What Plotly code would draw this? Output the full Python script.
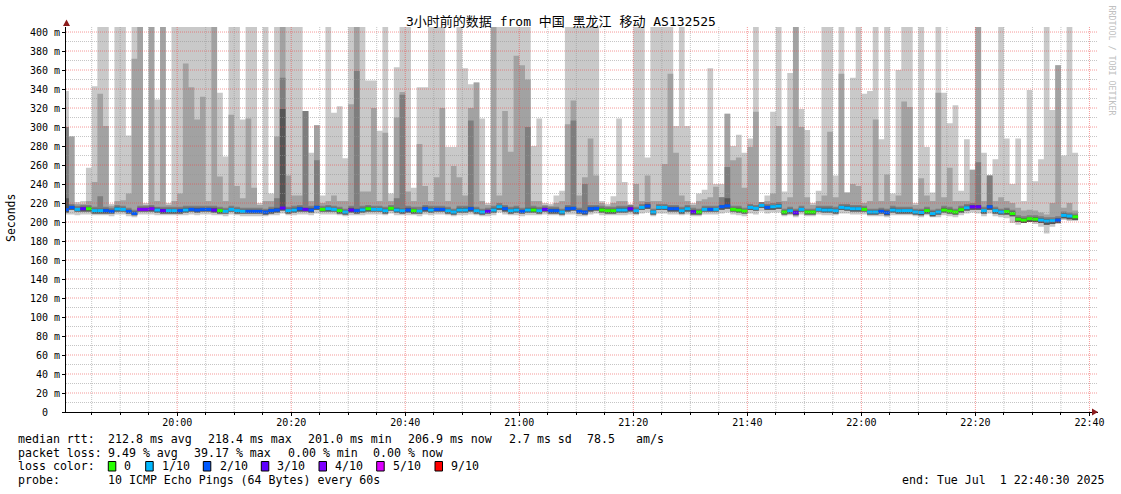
import plotly.graph_objects as go
import pandas as pd

# ---------------- data ----------------
TITLE = "3小时前的数据 from 中国 黑龙江 移动 AS132525"
FIRST_BIN = "2025-07-01 19:40:00"   # start of the first 1-minute bin

# median rtt per minute (ms)
MEDIAN = [
    213.0, 215.4, 213.3, 214.0, 214.0, 212.0, 212.0, 212.0, 211.2, 213.7,
    213.3, 211.2, 209.1, 213.3, 213.3, 214.0, 212.6, 212.0, 212.0, 212.0,
    212.0, 212.6, 213.3, 212.6, 213.3, 213.3, 212.6, 212.0, 211.2, 213.3,
    212.0, 211.2, 211.2, 211.2, 211.2, 210.5, 212.0, 212.6, 214.7, 212.0,
    212.6, 214.0, 213.3, 212.6, 215.4, 213.3, 214.0, 213.3, 212.0, 210.5,
    212.6, 212.0, 212.8, 214.0, 213.3, 213.3, 211.9, 214.4, 212.6, 211.9,
    212.6, 211.9, 211.5, 214.0, 212.6, 213.3, 213.3, 211.9, 210.5, 212.6,
    212.6, 214.0, 211.9, 210.5, 211.2, 212.6, 216.1, 214.0, 211.9, 212.6,
    211.2, 212.6, 212.6, 211.9, 213.3, 211.9, 211.9, 210.5, 214.0, 214.4,
    211.2, 210.5, 214.0, 214.4, 212.6, 211.9, 211.9, 212.6, 212.6, 214.0,
    211.9, 215.4, 216.8, 210.5, 215.4, 215.4, 214.0, 214.0, 211.9, 214.0,
    210.8, 210.5, 213.3, 213.3, 213.3, 216.1, 217.0, 213.3, 212.6, 211.5,
    215.4, 214.4, 217.5, 215.4, 216.1, 216.8, 210.5, 211.9, 209.8, 213.3,
    210.5, 210.5, 213.3, 212.6, 212.6, 211.9, 215.4, 214.7, 214.0, 214.0,
    213.3, 210.5, 210.5, 211.2, 209.8, 212.6, 211.9, 212.0, 212.0, 210.5,
    210.0, 212.0, 209.0, 210.5, 212.6, 211.6, 210.5, 213.0, 215.0, 216.0,
    216.0, 212.0, 216.0, 212.0, 210.5, 211.0, 209.0, 203.0, 202.0, 203.5,
    203.0, 202.0, 201.0, 201.4, 202.0, 207.0, 206.3, 205.5,
]

# lost pings (out of 10) per minute -> colour of the median line
LOSS = [
    2, 2, 1, 3, 0, 1, 1, 2, 2, 1,
    1, 2, 2, 4, 4, 4, 1, 3, 1, 1,
    2, 1, 2, 2, 2, 2, 3, 0, 1, 1,
    1, 1, 2, 2, 2, 2, 2, 2, 3, 1,
    1, 2, 3, 2, 2, 0, 1, 1, 0, 1,
    3, 2, 1, 0, 1, 1, 1, 0, 1, 1,
    2, 0, 1, 2, 1, 2, 2, 1, 1, 1,
    1, 2, 1, 1, 3, 1, 1, 2, 1, 1,
    2, 1, 0, 1, 3, 2, 2, 1, 2, 2,
    2, 2, 2, 2, 0, 0, 0, 1, 1, 3,
    1, 1, 2, 1, 1, 1, 2, 2, 1, 1,
    3, 0, 1, 2, 1, 2, 2, 0, 0, 0,
    1, 1, 1, 2, 1, 1, 0, 1, 3, 1,
    0, 0, 1, 1, 1, 1, 1, 1, 1, 1,
    0, 1, 1, 2, 2, 1, 1, 1, 1, 1,
    1, 0, 1, 1, 0, 0, 0, 0, 1, 3,
    3, 1, 2, 1, 1, 0, 0, 0, 0, 0,
    0, 1, 1, 1, 2, 1, 1, 0,
]

# smoke: top of outer band (highest ping)
TOP1 = [
    338, 290, 221, 222, 257, 343, 420, 420, 219, 420,
    420, 291, 420, 420, 220, 420, 329, 420, 220, 420,
    420, 420, 420, 420, 420, 420, 420, 336, 269, 420,
    420, 308, 420, 420, 220, 420, 230, 420, 420, 420,
    420, 420, 317, 273, 302, 228, 420, 315, 322, 267,
    420, 420, 420, 349, 349, 296, 420, 230, 363, 420,
    420, 236, 342, 342, 420, 420, 420, 279, 279, 420,
    362, 345, 347, 309, 220, 420, 420, 420, 420, 420,
    420, 420, 280, 309, 220, 219, 228, 233, 420, 420,
    420, 420, 420, 420, 222, 219, 227, 309, 242, 219,
    420, 420, 268, 420, 420, 420, 420, 301, 420, 301,
    220, 230, 234, 362, 240, 240, 314, 280, 292, 273,
    288, 420, 220, 228, 316, 420, 232, 357, 420, 319,
    297, 220, 233, 420, 420, 249, 420, 231, 352, 420,
    335, 338, 420, 287, 420, 230, 360, 420, 420, 220,
    420, 279, 231, 420, 336, 304, 323, 233, 287, 255,
    420, 273, 249, 266, 420, 288, 240, 288, 222, 339,
    243, 266, 420, 318, 365, 270, 420, 273,
]
# second band top
TOP2 = [
    290, 290, 219, 219, 222, 242, 335, 301, 217, 222,
    223, 230, 372, 420, 218, 420, 222, 420, 218, 222,
    230, 367, 342, 308, 332, 222, 420, 248, 222, 313,
    238, 225, 309, 236, 218, 222, 222, 290, 420, 249,
    228, 228, 317, 222, 302, 220, 222, 228, 222, 222,
    324, 420, 232, 232, 320, 222, 294, 222, 310, 337,
    232, 222, 282, 238, 222, 247, 320, 222, 259, 247,
    228, 320, 347, 222, 218, 420, 228, 317, 274, 375,
    365, 350, 222, 222, 218, 217, 220, 222, 303, 328,
    228, 247, 288, 249, 220, 217, 220, 222, 222, 217,
    240, 222, 249, 222, 222, 261, 356, 273, 228, 222,
    218, 222, 224, 226, 237, 226, 314, 265, 268, 236,
    279, 316, 219, 222, 230, 301, 222, 226, 420, 300,
    226, 218, 222, 228, 295, 226, 356, 231, 240, 238,
    220, 222, 308, 222, 250, 222, 228, 327, 321, 218,
    246, 228, 222, 336, 226, 257, 222, 222, 222, 255,
    420, 222, 249, 222, 226, 222, 220, 215, 212, 213,
    212, 210, 208, 220, 365, 215, 220, 212,
]
# third band top
TOP3 = [
    300, 219, 217, 218, 218, 216, 227, 216, 215, 218,
    217, 215, 213, 217, 217, 218, 216, 216, 216, 216,
    216, 217, 217, 217, 217, 217, 217, 216, 215, 217,
    216, 215, 215, 215, 215, 214, 216, 225, 352, 216,
    217, 218, 317, 217, 265, 217, 218, 217, 216, 214,
    217, 359, 217, 218, 217, 217, 216, 218, 225, 334,
    217, 216, 216, 218, 217, 217, 217, 216, 214, 217,
    217, 307, 216, 214, 215, 217, 220, 218, 216, 217,
    215, 300, 217, 216, 217, 216, 216, 214, 218, 307,
    215, 240, 218, 218, 217, 216, 216, 217, 217, 218,
    216, 219, 221, 214, 219, 219, 218, 218, 216, 218,
    215, 214, 217, 217, 217, 226, 258, 217, 217, 215,
    219, 218, 221, 219, 220, 221, 214, 216, 214, 217,
    214, 214, 217, 217, 217, 216, 219, 219, 218, 218,
    217, 214, 214, 215, 214, 217, 216, 216, 216, 214,
    214, 216, 213, 214, 217, 216, 214, 217, 219, 220,
    263, 216, 249, 216, 214, 215, 213, 207, 206, 207,
    207, 206, 205, 205, 206, 211, 210, 209,
]
# inner (darkest) band top
TOP4 = [
    225, 217, 215, 216, 216, 214, 214, 214, 213, 216,
    215, 213, 211, 215, 215, 216, 215, 214, 214, 214,
    214, 215, 215, 215, 215, 215, 215, 214, 213, 215,
    214, 213, 213, 213, 213, 212, 214, 215, 319, 214,
    215, 216, 215, 215, 217, 215, 216, 215, 214, 212,
    215, 214, 215, 216, 215, 215, 214, 216, 215, 214,
    215, 214, 213, 216, 215, 215, 215, 214, 212, 215,
    215, 216, 214, 212, 213, 215, 218, 216, 214, 215,
    213, 215, 215, 214, 215, 214, 214, 212, 216, 216,
    213, 212, 216, 216, 215, 214, 214, 215, 215, 216,
    214, 217, 219, 212, 217, 217, 216, 216, 214, 216,
    213, 212, 215, 215, 215, 218, 225, 215, 215, 213,
    217, 216, 219, 217, 218, 219, 212, 214, 212, 215,
    212, 212, 215, 215, 215, 214, 217, 217, 216, 216,
    215, 212, 212, 213, 212, 215, 214, 214, 214, 212,
    212, 214, 211, 212, 215, 214, 212, 215, 217, 218,
    218, 214, 218, 214, 212, 213, 211, 205, 204, 205,
    205, 204, 203, 203, 204, 209, 208, 207,
]
# lowest ping
LOW1 = [
    208, 208, 207, 208, 208, 207, 207, 207, 206, 208,
    208, 206, 205, 208, 208, 208, 207, 207, 207, 207,
    207, 207, 208, 207, 208, 208, 207, 207, 206, 208,
    207, 206, 206, 206, 206, 206, 207, 207, 209, 207,
    207, 208, 208, 207, 209, 208, 208, 208, 207, 206,
    207, 207, 207, 208, 208, 208, 207, 209, 207, 207,
    207, 207, 206, 208, 207, 208, 208, 207, 206, 207,
    207, 208, 207, 206, 206, 207, 210, 208, 207, 207,
    206, 207, 207, 207, 208, 207, 207, 206, 208, 208,
    206, 206, 208, 209, 207, 207, 207, 207, 207, 208,
    207, 209, 210, 206, 209, 209, 208, 208, 207, 208,
    206, 206, 208, 208, 208, 209, 210, 208, 207, 206,
    209, 208, 211, 209, 210, 210, 206, 207, 205, 208,
    206, 206, 208, 207, 207, 207, 209, 209, 208, 208,
    208, 206, 206, 206, 205, 207, 207, 207, 207, 206,
    205, 207, 205, 205, 207, 206, 205, 207, 209, 210,
    209, 206, 209, 206, 205, 204, 199, 197, 199, 200,
    198, 195, 188, 195, 198, 202, 201, 201,
]
# second-lowest ping
LOW2 = [
    210, 213, 211, 211, 211, 209, 209, 209, 209, 211,
    211, 209, 207, 211, 211, 211, 210, 209, 209, 209,
    209, 210, 211, 210, 211, 211, 210, 209, 209, 211,
    209, 209, 209, 209, 209, 208, 209, 210, 212, 209,
    210, 211, 211, 210, 213, 211, 211, 211, 209, 208,
    210, 209, 210, 211, 211, 211, 209, 212, 210, 209,
    210, 209, 209, 211, 210, 211, 211, 209, 208, 210,
    210, 211, 209, 208, 209, 210, 213, 211, 209, 210,
    209, 210, 210, 209, 211, 209, 209, 208, 211, 212,
    209, 208, 211, 212, 210, 209, 209, 210, 210, 211,
    209, 213, 214, 208, 213, 213, 211, 211, 209, 211,
    208, 208, 211, 211, 211, 213, 214, 211, 210, 209,
    213, 212, 215, 213, 213, 214, 208, 209, 207, 211,
    208, 208, 211, 210, 210, 209, 213, 212, 211, 211,
    211, 208, 208, 209, 207, 210, 209, 209, 209, 208,
    207, 209, 206, 208, 210, 209, 208, 210, 212, 213,
    213, 209, 213, 209, 208, 208, 206, 200, 199, 200,
    200, 199, 197, 198, 199, 204, 203, 202,
]

Y_TICKS = [0, 20, 40, 60, 80, 100, 120, 140, 160, 180, 200,
           220, 240, 260, 280, 300, 320, 340, 360, 380, 400]
Y_LABELS = ["0\u00a0\u00a0", "20 m", "40 m", "60 m", "80 m", "100 m", "120 m",
            "140 m", "160 m", "180 m", "200 m", "220 m", "240 m", "260 m",
            "280 m", "300 m", "320 m", "340 m", "360 m", "380 m", "400 m"]

LOSS_KEYS = [0, 1, 2, 3, 4, 5, 9]
LOSS_LABELS = ["0", "1/10", "2/10", "3/10", "4/10", "5/10", "9/10"]
LOSS_COLORS = ["#26ff00", "#00b8ff", "#0059ff", "#5e00ff", "#7e00ff", "#dd00ff", "#ff0000"]

STAT_LINE1 = ["median rtt:", "212.8 ms avg", "218.4 ms max", "201.0 ms min",
              "206.9 ms now", "2.7 ms sd", "78.5", "am/s"]
STAT_LINE2 = ["packet loss:", "9.49 % avg", "39.17 % max", "0.00 % min", "0.00 % now"]
STAT_LINE3 = ["loss color:"]
STAT_LINE4 = ["probe:", "10 ICMP Echo Pings (64 Bytes) every 60s"]
END_TEXT = "end: Tue Jul  1 22:40:30 2025"
WATERMARK = "RRDTOOL / TOBI OETIKER"
Y_TITLE = "Seconds"

# ---------------- layout geometry ----------------
W, H = 1121, 494
ML, MR, MT, MB = 66, 23, 27, 82
PW, PH = W - ML - MR, H - MT - MB
XR = [pd.Timestamp("2025-07-01 19:40:30"), pd.Timestamp("2025-07-01 22:41:30")]
YR = [0, 405.3]
MONO = "DejaVu Sans Mono"
FS = 11.6

LINE1_X = [16.7, 107.3, 207.3, 307.3, 407.3, 507.6, 586.0, 635.0]
LINE2_X = [16.7, 107.3, 193.3, 286.7, 372.3]
LINE3_X = [16.7]
LINE4_X = [16.7, 107.3]
LINE_Y = [439.0, 452.5, 466.3, 480.2]
BOX_X = [108.3, 145.7, 203.3, 261.3, 319.0, 376.7, 435.0]
LAB_X = [123.3, 160.7, 218.5, 276.3, 334.2, 392.0, 450.0]


def xp(px):
    return (px - ML) / PW


def yp(py):
    return (H - MB - py) / PH


def nb(s):
    return s.replace(" ", "\u00a0")


n = len(MEDIAN)
edges = pd.date_range(FIRST_BIN, periods=n + 1, freq="min")


def steps(vals):
    return list(vals) + [vals[-1]]


fig = go.Figure()
# smoke bands as step areas (lightest first, darker on top)
for top, low, col in [(TOP1, LOW1, "#c9c9c9"), (TOP2, LOW2, "#a2a2a2"),
                      (TOP3, LOW2, "#7e7e7e"), (TOP4, LOW2, "#555555")]:
    fig.add_trace(go.Scatter(x=edges, y=steps(low), mode="lines",
                             line=dict(width=0, shape="hv", color="rgba(0,0,0,0)"),
                             hoverinfo="skip", showlegend=False))
    fig.add_trace(go.Scatter(x=edges, y=steps(top), mode="lines",
                             line=dict(width=0, shape="hv", color="rgba(0,0,0,0)"),
                             fill="tonexty", fillcolor=col,
                             hoverinfo="skip", showlegend=False))

# median line, coloured by packet loss
for key, col in zip(LOSS_KEYS, LOSS_COLORS):
    xs, ys = [], []
    for k in range(n):
        if LOSS[k] == key:
            xs += [edges[k], edges[k + 1], None]
            ys += [MEDIAN[k], MEDIAN[k], None]
    if xs:
        fig.add_trace(go.Scatter(x=xs, y=ys, mode="lines",
                                 line=dict(width=3, color=col),
                                 hoverinfo="skip", showlegend=False))

# grid drawn on top of the smoke, like rrdtool
RED = "rgba(235,70,70,0.55)"
GRAY = "rgba(150,150,150,0.55)"
shapes = []
t = pd.Timestamp("2025-07-01 19:45")
while t <= pd.Timestamp("2025-07-01 22:40"):
    major = t.minute % 20 == 0
    shapes.append(dict(type="line", xref="x", yref="y", x0=t, x1=t, y0=0, y1=YR[1],
                       line=dict(color=RED if major else GRAY, width=1, dash="1px,1px"),
                       layer="above"))
    t += pd.Timedelta(minutes=5)
for v in range(10, 410, 10):
    major = v % 20 == 0
    shapes.append(dict(type="line", xref="x", yref="y", x0=XR[0], x1=XR[1], y0=v, y1=v,
                       line=dict(color=RED if major else GRAY, width=1, dash="1px,1px"),
                       layer="above"))

# axis arrows
ARROW = "#8b1c1c"
shapes.append(dict(type="path", xref="paper", yref="paper",
                   path=f"M {xp(66.5)},{yp(19.5)} L {xp(63)},{yp(26)} L {xp(70)},{yp(26)} Z",
                   fillcolor=ARROW, line=dict(width=0), layer="above"))
shapes.append(dict(type="path", xref="paper", yref="paper",
                   path=f"M {xp(1098)},{yp(412)} L {xp(1092)},{yp(408.5)} L {xp(1092)},{yp(415.5)} Z",
                   fillcolor=ARROW, line=dict(width=0), layer="above"))

# loss-colour legend boxes
for bx, col in zip(BOX_X, LOSS_COLORS):
    shapes.append(dict(type="rect", xref="paper", yref="paper",
                       x0=xp(bx), x1=xp(bx + 7.5), y0=yp(471), y1=yp(461.5),
                       fillcolor=col, line=dict(color="black", width=1)))

annotations = []


def add_text(text, x, y, anchor="left", size=FS, color="black", angle=0, family=MONO):
    annotations.append(dict(text=nb(text), x=xp(x), y=yp(y), xref="paper", yref="paper",
                            xanchor=anchor, yanchor="middle", showarrow=False,
                            borderpad=0, textangle=angle,
                            font=dict(family=family, size=size, color=color)))


add_text(TITLE, 560.5, 21.5, anchor="center", size=13, family=MONO + ", Noto Sans CJK SC")
add_text(Y_TITLE, 11, 218, anchor="center", size=11.5, angle=-90)
add_text(WATERMARK, 1111.5, 60, anchor="center", size=8.3, color="#c0c0c0", angle=90)
for chunks, xs, y in [(STAT_LINE1, LINE1_X, LINE_Y[0]), (STAT_LINE2, LINE2_X, LINE_Y[1]),
                      (STAT_LINE3, LINE3_X, LINE_Y[2]), (STAT_LINE4, LINE4_X, LINE_Y[3])]:
    for txt, x in zip(chunks, xs):
        add_text(txt, x, y)
for lx, lab in zip(LAB_X, LOSS_LABELS):
    add_text(lab, lx, LINE_Y[2])
add_text(END_TEXT, 1104.5, LINE_Y[3], anchor="right")

fig.update_layout(
    width=W, height=H,
    margin=dict(l=ML, r=MR, t=MT, b=MB, pad=0, autoexpand=False),
    paper_bgcolor="white", plot_bgcolor="white",
    showlegend=False,
    font=dict(family=MONO, size=10, color="black"),
    shapes=shapes, annotations=annotations,
)
fig.update_xaxes(
    type="date", range=XR, showgrid=False, zeroline=False,
    showline=True, linecolor="black", linewidth=1,
    ticks="outside", ticklen=3, tickcolor="black", tickwidth=1,
    tick0="2025-07-01 20:00", dtick=20 * 60 * 1000, tickformat="%H:%M",
    tickfont=dict(family=MONO, size=10, color="black"),
    ticklabelstandoff=-2,
    minor=dict(ticks="outside", ticklen=2, tickcolor="black",
               tick0="2025-07-01 20:00", dtick=5 * 60 * 1000, showgrid=False),
)
fig.update_yaxes(
    range=YR, showgrid=False, zeroline=False,
    showline=True, linecolor="black", linewidth=1,
    tickvals=Y_TICKS, ticktext=Y_LABELS,
    ticks="outside", ticklen=3, tickcolor="black", tickwidth=1,
    tickfont=dict(family=MONO, size=10, color="black"),
)

fig.write_html("out.html", config={"displayModeBar": False},
               post_script="document.body.style.margin='0';")
